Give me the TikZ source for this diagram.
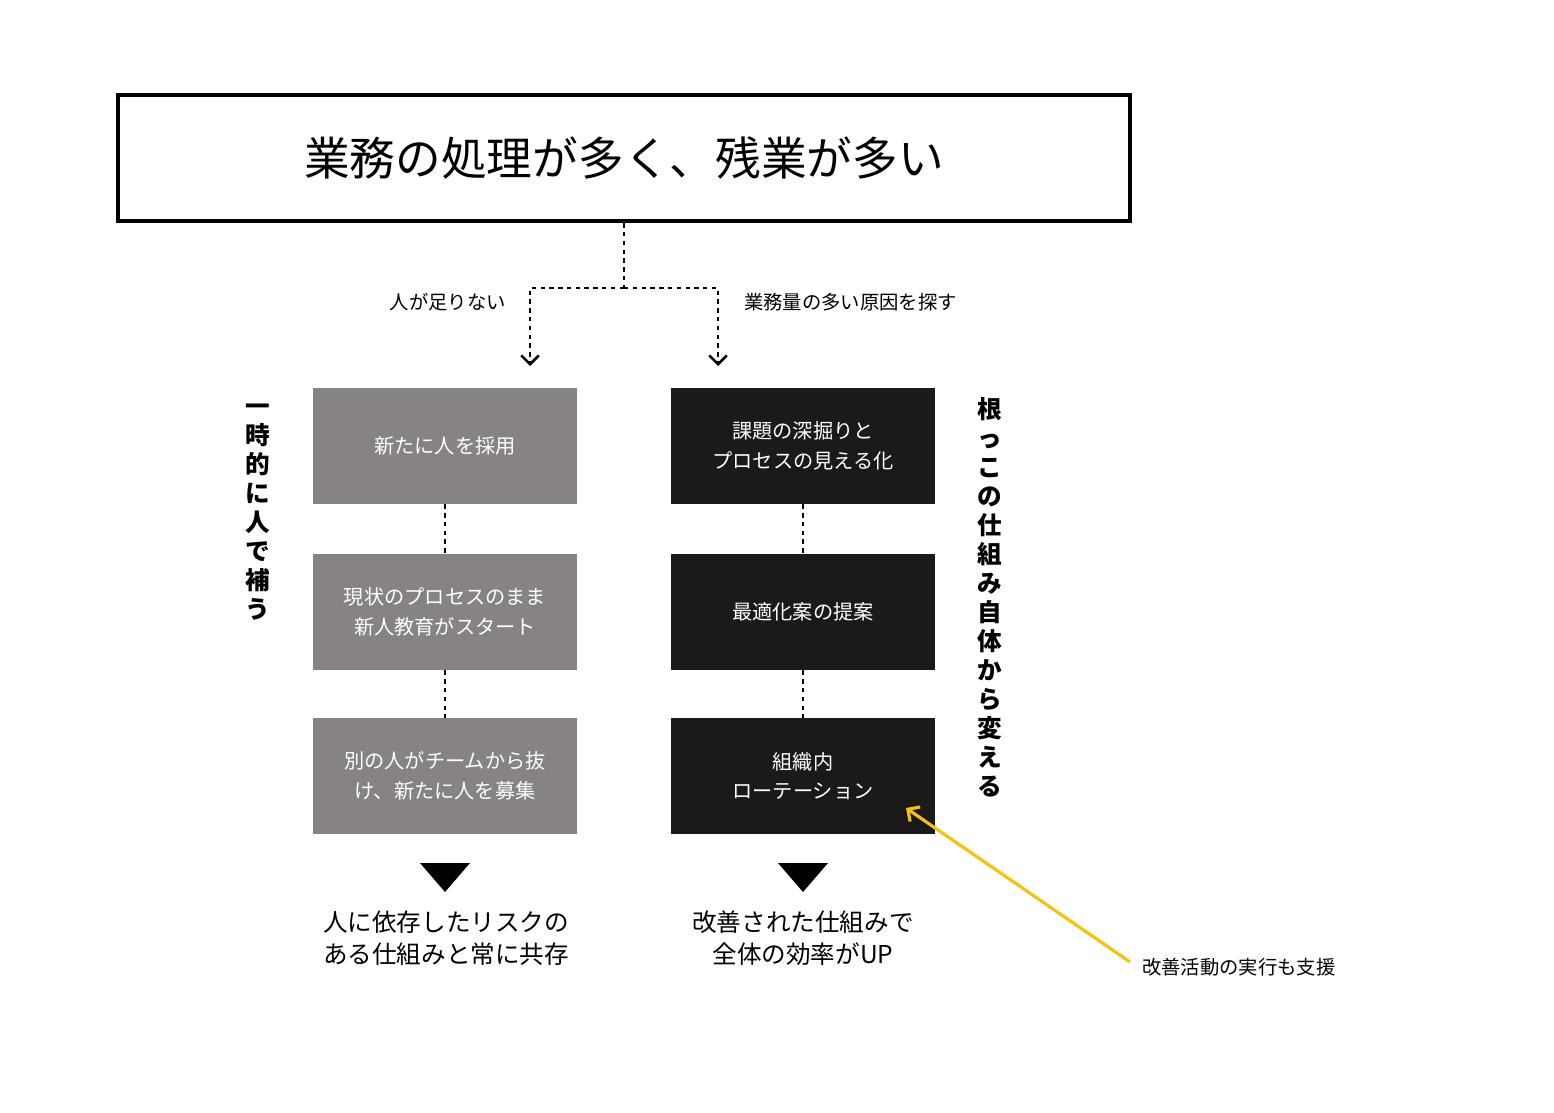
\documentclass[tikz,border=0pt]{standalone}
\usepackage{fontspec}
\setmainfont{Noto Sans CJK JP}
\usetikzlibrary{arrows.meta}
\definecolor{boxgray}{HTML}{878384}
\definecolor{boxblack}{HTML}{1A1A1A}
\definecolor{helpyellow}{HTML}{F5C211}
\begin{document}
\begin{tikzpicture}[x=0.02cm, y=-0.02cm,
    step box/.style={minimum width=264*0.02cm, minimum height=116*0.02cm, text=white, align=center, font=\fontsize{11.5}{17}\selectfont, inner sep=0pt},
    dots/.style={line width=1.6pt, dash pattern=on 2.5pt off 2.5pt},
    side text/.style={align=center, font=\fontsize{14}{16.5}\selectfont\bfseries},
    result/.style={align=center, font=\fontsize{14}{18}\selectfont}]
    \useasboundingbox (0,0) rectangle (1554,1112);

    % problem
    \node[draw, line width=2.5pt, minimum width=1012*0.02cm, minimum height=126*0.02cm, font=\fontsize{26}{30}\selectfont] (problem) at (624,158) {業務の処理が多く、残業が多い};

    % branches
    \coordinate (split) at (624,288);
    \coordinate (lturn) at (530,288);
    \coordinate (rturn) at (718,288);
    \coordinate (lend) at (530,366);
    \coordinate (rend) at (718,366);
    \draw[dots] (problem.south) -- (split);
    \draw[dots, -{Straight Barb[length=5pt,width=10pt,line width=1.5pt]}] (split) -- (lturn) -- (lend);
    \draw[dots, -{Straight Barb[length=5pt,width=10pt,line width=1.5pt]}] (split) -- (rturn) -- (rend);
    \node[anchor=east, font=\fontsize{11}{13}\selectfont] (llabel) at (512,302) {人が足りない};
    \node[anchor=west, font=\fontsize{11}{13}\selectfont] (rlabel) at (738,302) {業務量の多い原因を探す};

    % left column
    \node[step box, fill=boxgray] (l1) at (445,446) {新たに人を採用};
    \node[step box, fill=boxgray] (l2) at (445,612) {現状のプロセスのまま\\新人教育がスタート};
    \node[step box, fill=boxgray] (l3) at (445,776) {別の人がチームから抜\\け、新たに人を募集};
    \draw[dots] (l1) -- (l2);
    \draw[dots] (l2) -- (l3);

    % right column
    \node[step box, fill=boxblack] (r1) at (803,446) {課題の深掘りと\\プロセスの見える化};
    \node[step box, fill=boxblack] (r2) at (803,612) {最適化案の提案};
    \node[step box, fill=boxblack] (r3) at (803,776) {組織内\\ローテーション};
    \draw[dots] (r1) -- (r2);
    \draw[dots] (r2) -- (r3);

    % side labels
    \node[side text] (lside) at (258,512) {一\\時\\的\\に\\人\\で\\補\\う};
    \node[side text] (rside) at (990,597) {根\\っ\\こ\\の\\仕\\組\\み\\自\\体\\か\\ら\\変\\え\\る};

    % results
    \fill (420,863) -- (470,863) -- (445,892) -- cycle;
    \fill (778,863) -- (828,863) -- (803,892) -- cycle;
    \node[result] (lresult) at (446,938) {人に依存したリスクの\\ある仕組みと常に共存};
    \node[result] (rresult) at (803,938) {改善された仕組みで\\全体の効率がUP};

    % support
    \node[anchor=west, font=\fontsize{11}{13}\selectfont] (support) at (1136,967) {改善活動の実行も支援};
    \coordinate (stail) at (1130,962);
    \coordinate (shead) at (906,808);
    \draw[helpyellow, line width=1.8pt, -{Straight Barb[length=5pt,width=10pt]}] (stail) -- (shead);
\end{tikzpicture}
\end{document}
